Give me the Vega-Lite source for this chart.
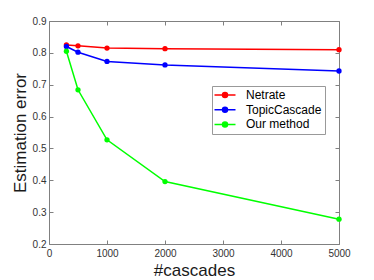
{
  "$schema": "https://vega.github.io/schema/vega-lite/v6.json",
  "width": 290,
  "height": 223,
  "autosize": {"type": "none"},
  "padding": {"left": 49, "top": 21, "right": 35, "bottom": 36},
  "background": "white",
  "config": {
    "view": {"stroke": null},
    "font": "Liberation Sans",
    "axis": {"grid": false, "domainColor": "#808080", "tickColor": "#808080", "labelColor": "#333333", "labelFontSize": 10, "labelFont": "Liberation Sans", "titleFont": "Liberation Sans", "titleFontWeight": "normal", "titleColor": "#1a1a1a", "titleFontSize": 17, "tickSize": -4, "domainWidth": 1}
  },
  "data": {"values": [
    {"n": 300, "v": 0.825, "method": "Netrate"},
    {"n": 500, "v": 0.822, "method": "Netrate"},
    {"n": 1000, "v": 0.815, "method": "Netrate"},
    {"n": 2000, "v": 0.813, "method": "Netrate"},
    {"n": 5000, "v": 0.810, "method": "Netrate"},
    {"n": 300, "v": 0.820, "method": "TopicCascade"},
    {"n": 500, "v": 0.802, "method": "TopicCascade"},
    {"n": 1000, "v": 0.773, "method": "TopicCascade"},
    {"n": 2000, "v": 0.762, "method": "TopicCascade"},
    {"n": 5000, "v": 0.743, "method": "TopicCascade"},
    {"n": 300, "v": 0.805, "method": "Our method"},
    {"n": 500, "v": 0.684, "method": "Our method"},
    {"n": 1000, "v": 0.527, "method": "Our method"},
    {"n": 2000, "v": 0.396, "method": "Our method"},
    {"n": 5000, "v": 0.278, "method": "Our method"}
  ]},
  "layer": [
    {
      "mark": {"type": "line", "strokeWidth": 1.5},
      "encoding": {
        "x": {"field": "n", "type": "quantitative", "scale": {"domain": [0, 5000], "nice": false}, "title": "#cascades",
          "axis": {"orient": "bottom", "values": [0, 1000, 2000, 3000, 4000, 5000], "format": "d", "labelPadding": 8, "titlePadding": 4, "labelFlush": false}},
        "y": {"field": "v", "type": "quantitative", "scale": {"domain": [0.2, 0.9], "nice": false, "zero": false}, "title": "Estimation error",
          "axis": {"orient": "left", "values": [0.2, 0.3, 0.4, 0.5, 0.6, 0.7, 0.8, 0.9], "format": ".1f", "labelPadding": 7, "titlePadding": 3, "labelFlush": false}},
        "color": {"field": "method", "type": "nominal",
          "scale": {"domain": ["Netrate", "TopicCascade", "Our method"], "range": ["#ff0000", "#0000ff", "#00ff00"]},
          "legend": {"title": null, "orient": "none", "legendX": 163, "legendY": 65, "fillColor": "white", "strokeColor": "#999999", "padding": 3,
            "labelFontSize": 12, "labelColor": "black", "labelFont": "Liberation Sans", "labelOffset": 15, "rowPadding": 2.7, "symbolOffset": 4,
            "symbolType": "M-2.1,0L2.1,0M-0.5,0A0.5,0.5,0,1,1,0.5,0A0.5,0.5,0,1,1,-0.5,0Z", "symbolSize": 100, "symbolStrokeWidth": 1.5,
            "encode": {"symbols": {"update": {"fill": {"scale": "color", "field": "value"}, "fillOpacity": {"value": 1}}}}}}
      }
    },
    {
      "mark": {"type": "point", "filled": true, "size": 28, "opacity": 1},
      "encoding": {
        "x": {"field": "n", "type": "quantitative", "axis": {"orient": "top", "values": [0, 1000, 2000, 3000, 4000, 5000], "labels": false, "title": null}},
        "y": {"field": "v", "type": "quantitative", "axis": {"orient": "right", "values": [0.2, 0.3, 0.4, 0.5, 0.6, 0.7, 0.8, 0.9], "labels": false, "title": null}},
        "color": {"field": "method", "type": "nominal", "legend": null}
      }
    }
  ],
  "resolve": {"axis": {"x": "independent", "y": "independent"}}
}
